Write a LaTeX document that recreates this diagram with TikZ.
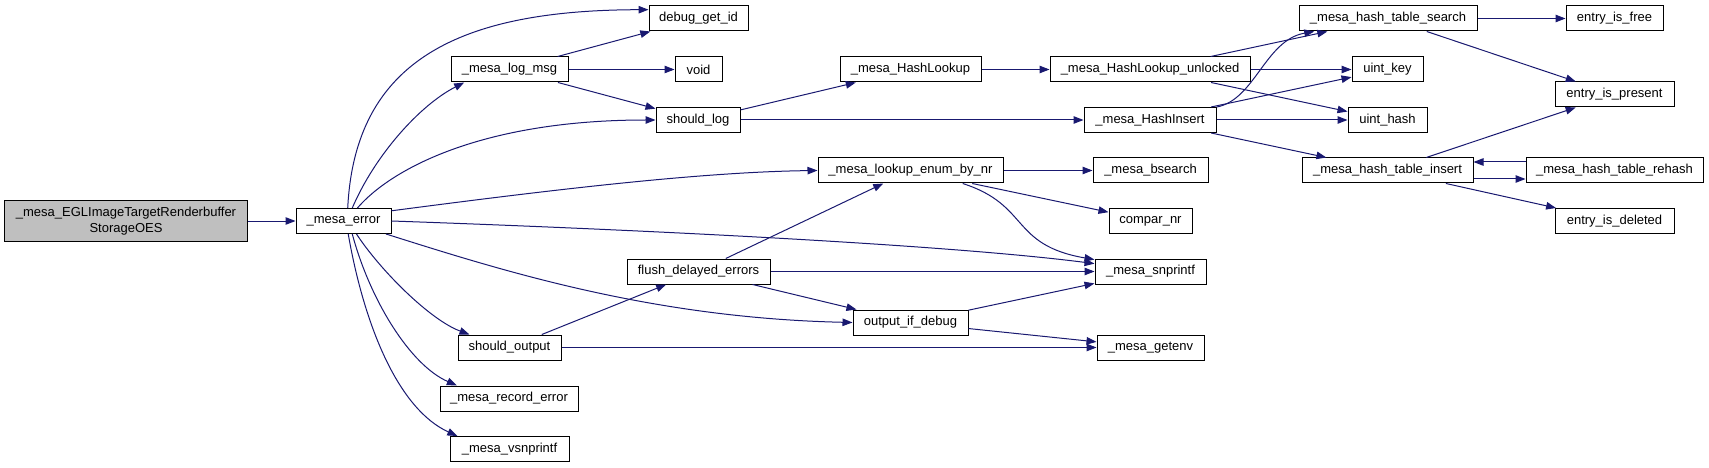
\documentclass[tikz,border=0pt]{standalone}
\usepackage{fontspec}
\setmainfont{Liberation Sans}
\usetikzlibrary{arrows.meta}
\definecolor{edgeblue}{HTML}{191970}
\definecolor{maingray}{HTML}{BFBFBF}

\begin{document}
\begin{tikzpicture}[
    x=1pt, y=-1pt,
    every node/.style={font=\fontsize{13}{15.5}\selectfont, align=center},
    box/.style={rectangle, draw=black, line width=1pt, fill=white, minimum height=25pt, inner sep=2pt},
    mainbox/.style={box, fill=maingray, minimum height=41pt},
    arr/.style={-{Triangle[length=10pt,width=7.5pt]}, line width=1pt, edgeblue}
]
\useasboundingbox (0,0) rectangle (1709,468);

\node[mainbox, minimum width=243pt] (egl) at (126,221) {\_mesa\_EGLImageTargetRenderbuffer\\StorageOES};
\node[box, minimum width=95pt]  (err)  at (343.5,221) {\_mesa\_error};
\node[box, minimum width=99pt]  (dbg)  at (698.5,18.5) {debug\_get\_id};
\node[box, minimum width=117pt] (lmsg) at (509.5,69.5) {\_mesa\_log\_msg};
\node[box, minimum width=47pt]  (void) at (698.5,69.5) {void};
\node[box, minimum width=84pt]  (slog) at (698,120)    {should\_log};
\node[box, minimum width=185pt] (lenum) at (910.5,170.5) {\_mesa\_lookup\_enum\_by\_nr};
\node[box, minimum width=143pt] (flush) at (698.5,271.5) {flush\_delayed\_errors};
\node[box, minimum width=103pt] (sout) at (509.5,347.5) {should\_output};
\node[box, minimum width=138pt] (rec)  at (509,398.5)  {\_mesa\_record\_error};
\node[box, minimum width=119pt] (vsn)  at (509.5,449)  {\_mesa\_vsnprintf};
\node[box, minimum width=141pt] (hlook) at (910.5,69.5) {\_mesa\_HashLookup};
\node[box, minimum width=200pt] (hlu)  at (1150,69.5)  {\_mesa\_HashLookup\_unlocked};
\node[box, minimum width=132pt] (hins) at (1150,120)   {\_mesa\_HashInsert};
\node[box, minimum width=115pt] (bsrch) at (1150.5,170.5) {\_mesa\_bsearch};
\node[box, minimum width=83pt]  (cmp)  at (1150.5,221) {compar\_nr};
\node[box, minimum width=111pt] (snp)  at (1150.5,271.5) {\_mesa\_snprintf};
\node[box, minimum width=115pt] (odbg) at (910.5,322.5) {output\_if\_debug};
\node[box, minimum width=107pt] (genv) at (1150.5,347.5) {\_mesa\_getenv};
\node[box, minimum width=178pt] (hts)  at (1388,18.5)  {\_mesa\_hash\_table\_search};
\node[box, minimum width=97pt]  (efree) at (1614.5,18.5) {entry\_is\_free};
\node[box, minimum width=71pt]  (ukey) at (1387.5,69.5) {uint\_key};
\node[box, minimum width=119pt] (epres) at (1614.5,94.5) {entry\_is\_present};
\node[box, minimum width=79pt]  (uhash) at (1387.5,120) {uint\_hash};
\node[box, minimum width=171pt] (hti)  at (1387.5,170.5) {\_mesa\_hash\_table\_insert};
\node[box, minimum width=177pt] (reh)  at (1614.5,170.5) {\_mesa\_hash\_table\_rehash};
\node[box, minimum width=119pt] (edel) at (1614.5,221) {entry\_is\_deleted};

% _mesa_error and its callees
\draw[arr] (egl) -- (err);
\draw[arr] (err.72) .. controls (355,60) and (460,10) .. (dbg.170);
\draw[arr] (err.56) .. controls (375,155) and (420,105) .. (lmsg.196);
\draw[arr] (err.43) .. controls (390,170) and (480,120) .. (slog.west);
\draw[arr] (err.12) .. controls (550,190) and (700,172) .. (lenum.west);
\draw[arr] (err.east) .. controls (650,230) and (950,245) .. (snp.172);
\draw[arr] (err.-17) .. controls (500,270) and (650,318) .. (odbg.west);
\draw[arr] (err.-45) .. controls (380,270) and (430,320) .. (sout.162);
\draw[arr] (err.-56) .. controls (370,300) and (410,365) .. (rec.166);
\draw[arr] (err.-70) .. controls (365,330) and (400,410) .. (vsn.166);

% logging
\draw[arr] (lmsg) -- (dbg);
\draw[arr] (lmsg) -- (void);
\draw[arr] (lmsg) -- (slog);
\draw[arr] (slog) -- (hlook);
\draw[arr] (slog) -- (hins);
\draw[arr] (hlook) -- (hlu);

% hash table
\draw[arr] (hlu) -- (hts);
\draw[arr] (hlu) -- (ukey);
\draw[arr] (hlu) -- (uhash);
\draw[arr] (hins.11) .. controls (1255,100) and (1265,40) .. (hts.190);
\draw[arr] (hins) -- (ukey);
\draw[arr] (hins) -- (uhash);
\draw[arr] (hins) -- (hti);
\draw[arr] (hts) -- (efree);
\draw[arr] (hts) -- (epres);
\draw[arr] (hti) -- (epres);
\draw[arr] ([yshift=-8.5pt]hti.east) -- ([yshift=-8.5pt]reh.west);
\draw[arr] ([yshift=8.5pt]reh.west) -- ([yshift=8.5pt]hti.east);
\draw[arr] (hti) -- (edel);

% enum lookup and output
\draw[arr] (lenum) -- (bsrch);
\draw[arr] (lenum) -- (cmp);
\draw[arr] (lenum.-14) .. controls (1030,205) and (1010,245) .. (snp.168);
\draw[arr] (flush) -- (lenum);
\draw[arr] (flush) -- (snp);
\draw[arr] (flush) -- (odbg);
\draw[arr] (sout) -- (flush);
\draw[arr] (sout) -- (genv);
\draw[arr] (odbg) -- (snp);
\draw[arr] (odbg) -- (genv);
\end{tikzpicture}
\end{document}
